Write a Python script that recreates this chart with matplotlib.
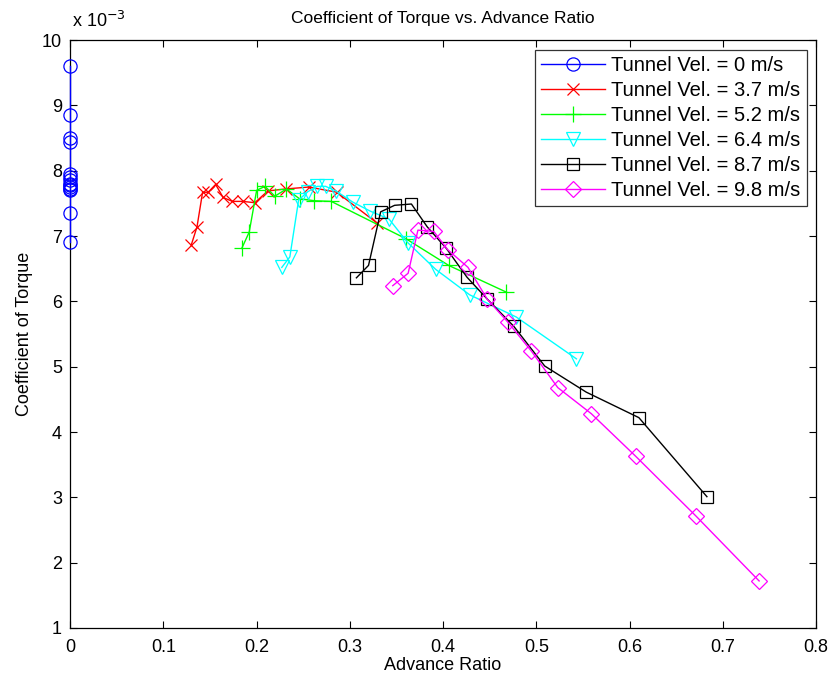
import numpy as np
import matplotlib
matplotlib.use("Agg")
import matplotlib.pyplot as plt

# Advance ratio (x) and coefficient of torque (y, in units of 1e-3)
j_0 = [0, 0, 0, 0, 0, 0, 0, 0, 0, 0, 0, 0, 0, 0]
cq_0 = [9.60, 8.86, 8.50, 8.44, 7.95, 7.90, 7.85, 7.80, 7.78, 7.75, 7.72, 7.70, 7.35, 6.91]

j_37 = [0.130, 0.136, 0.142, 0.148, 0.156, 0.164, 0.174, 0.185, 0.198,
        0.212, 0.231, 0.256, 0.286, 0.329]
cq_37 = [6.87, 7.14, 7.67, 7.67, 7.79, 7.59, 7.53, 7.53, 7.51,
         7.69, 7.72, 7.75, 7.67, 7.20]

j_52 = [0.184, 0.192, 0.200, 0.209, 0.2195, 0.232, 0.246, 0.262, 0.280,
        0.360, 0.406, 0.468]
cq_52 = [6.81, 7.06, 7.70, 7.76, 7.61, 7.72, 7.57, 7.54, 7.53,
         6.96, 6.55, 6.14]

j_64 = [0.227, 0.2356, 0.245, 0.255, 0.265, 0.274, 0.285, 0.303, 0.322,
        0.342, 0.362, 0.392, 0.4285, 0.4785, 0.543]
cq_64 = [6.52, 6.68, 7.55, 7.68, 7.76, 7.76, 7.69, 7.52, 7.38,
         7.26, 6.90, 6.49, 6.10, 5.76, 5.12]

j_87 = [0.307, 0.320, 0.333, 0.348, 0.366, 0.383, 0.4035, 0.4256, 0.447,
        0.4757, 0.509, 0.5536, 0.610, 0.683]
cq_87 = [6.36, 6.55, 7.37, 7.47, 7.49, 7.14, 6.81, 6.37, 6.04,
         5.62, 5.01, 4.61, 4.22, 3.01]

j_98 = [0.346, 0.3625, 0.373, 0.390, 0.405, 0.4267, 0.4475, 0.4696, 0.4946,
        0.523, 0.559, 0.6065, 0.6715, 0.739]
cq_98 = [6.24, 6.43, 7.09, 7.07, 6.79, 6.52, 6.03, 5.68, 5.24,
         4.68, 4.28, 3.63, 2.71, 1.72]

labels = ["Tunnel Vel. = 0 m/s", "Tunnel Vel. = 3.7 m/s", "Tunnel Vel. = 5.2 m/s",
          "Tunnel Vel. = 6.4 m/s", "Tunnel Vel. = 8.7 m/s", "Tunnel Vel. = 9.8 m/s"]

plt.rcParams.update({
    "font.family": ["Liberation Sans", "DejaVu Sans"],
    "xtick.direction": "in",
    "ytick.direction": "in",
    "xtick.top": True,
    "ytick.right": True,
})

fig = plt.figure(figsize=(8.3, 6.82), dpi=100)
ax = fig.add_axes([0.0846, 0.0792, 0.8985, 0.8621])

series = [
    (j_0, cq_0, "#0000ff", "o"),
    (j_37, cq_37, "#ff0000", "x"),
    (j_52, cq_52, "#00ff00", "+"),
    (j_64, cq_64, "#00ffff", "v"),
    (j_87, cq_87, "#000000", "s"),
    (j_98, cq_98, "#ff00ff", "D"),
]
msizes = {"o": 9.5, "x": 8, "+": 11, "v": 10, "s": 8, "D": 8}

for (x, y, c, m), lab in zip(series, labels):
    ax.plot(x, y, color=c, marker=m, markersize=msizes[m],
            markerfacecolor="none", markeredgecolor=c, markeredgewidth=0.9,
            linewidth=1.0, label=lab, clip_on=False, zorder=3)

ax.set_xlim(0, 0.8)
ax.set_ylim(1, 10)
ax.set_xticks(np.arange(0, 0.81, 0.1))
ax.set_xticklabels(["0", "0.1", "0.2", "0.3", "0.4", "0.5", "0.6", "0.7", "0.8"])
ax.set_yticks(range(1, 11))
ax.tick_params(labelsize=13, length=5, width=0.8, pad=6)
ax.tick_params(axis="x", pad=8)
for s in ax.spines.values():
    s.set_linewidth(0.9)
    s.set_zorder(2)

ax.set_title("Coefficient of Torque vs. Advance Ratio", fontsize=12.5, pad=12)
ax.set_xlabel("Advance Ratio", fontsize=13, labelpad=1)
ax.set_ylabel("Coefficient of Torque", fontsize=13, labelpad=6)
ax.text(0.002, 1.015, r"x 10$^{-3}$", transform=ax.transAxes, fontsize=13,
        ha="left", va="bottom")

leg = ax.legend(loc="upper right", bbox_to_anchor=(0.9875, 0.9835), fontsize=14.5,
                frameon=True, fancybox=False, borderpad=0.3, labelspacing=0.3,
                handlelength=3.2, handletextpad=0.3, borderaxespad=0.0)
leg.get_frame().set_edgecolor("black")
leg.get_frame().set_linewidth(0.9)
leg.set_zorder(5)

fig.savefig("out.png", dpi=100)
